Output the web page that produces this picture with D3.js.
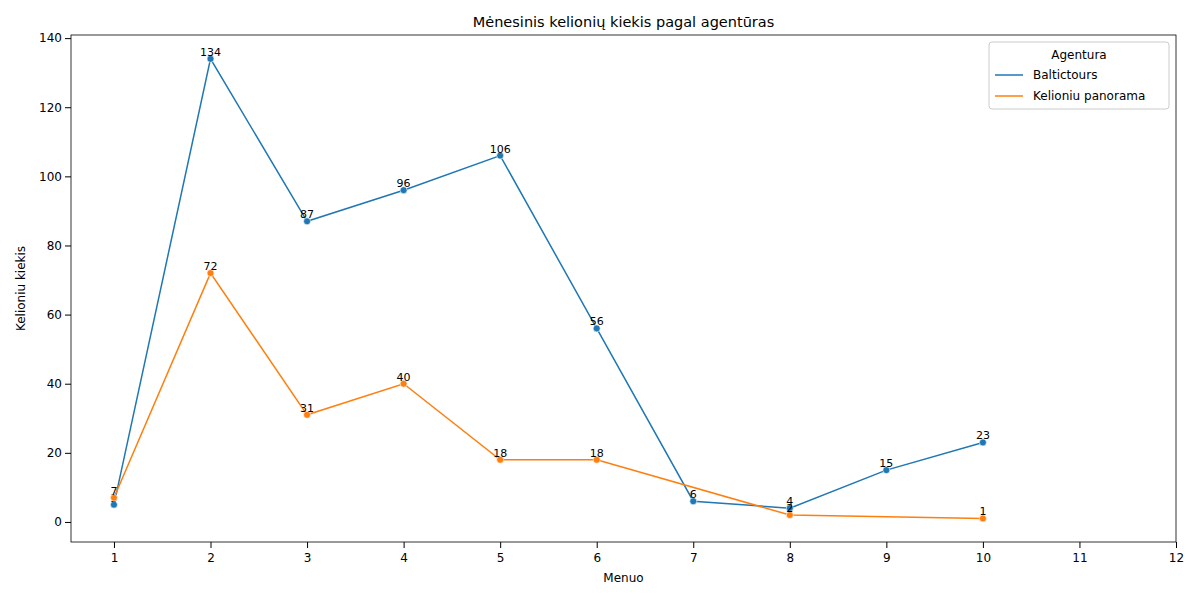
<!DOCTYPE html>
<html><head><meta charset="utf-8">
<script src="https://cdn.jsdelivr.net/npm/d3@7"></script>
<style>body{margin:0;background:#fff}text{font-family:"DejaVu Sans",sans-serif}</style>
</head><body><svg id="c" width="1200" height="600"></svg>
<script>
const months = [1, 2, 3, 4, 5, 6, 7, 8, 9, 10]
const baltictours = [5, 134, 87, 96, 106, 56, 6, 4, 15, 23]
const panoramaMonths = [1, 2, 3, 4, 5, 6, 8, 10]
const panorama = [7, 72, 31, 40, 18, 18, 2, 1]
const xTicks = [1, 2, 3, 4, 5, 6, 7, 8, 9, 10, 11, 12]
const yTicks = [0, 20, 40, 60, 80, 100, 120, 140]

const svg = d3.select("#c")
const m = { left: 71, right: 1176, top: 35, bottom: 542 }
const x = d3.scaleLinear().domain([0.555, 12]).range([m.left, m.right])
const y = d3.scaleLinear().domain([-5.8, 140.9]).range([m.bottom, m.top])

svg.append("g").attr("transform", `translate(0,${m.bottom})`)
  .call(d3.axisBottom(x).tickValues(xTicks).tickFormat(d3.format("d")).tickSizeOuter(0))
  .call(g => g.select(".domain").remove())
  .selectAll("text").style("font-size", "12px").attr("dy", "0.9em")
svg.append("g").attr("transform", `translate(${m.left},0)`)
  .call(d3.axisLeft(y).tickValues(yTicks).tickSizeOuter(0))
  .call(g => g.select(".domain").remove())
  .selectAll("text").style("font-size", "12px")
svg.append("rect").attr("x", m.left).attr("y", m.top)
  .attr("width", m.right - m.left).attr("height", m.bottom - m.top)
  .attr("fill", "none").attr("stroke", "#000").attr("stroke-width", 0.8)

const series = [
  { name: "Baltictours", color: "#1f77b4", xs: months, ys: baltictours },
  { name: "Kelioniu panorama", color: "#ff7f0e", xs: panoramaMonths, ys: panorama },
]
const line = d3.line().x(d => x(d[0])).y(d => y(d[1]))
series.forEach(s => {
  const pts = s.xs.map((v, i) => [v, s.ys[i]])
  svg.append("path").datum(pts).attr("d", line)
    .attr("fill", "none").attr("stroke", s.color).attr("stroke-width", 1.5)
  svg.selectAll(null).data(pts).enter().append("circle")
    .attr("cx", d => x(d[0])).attr("cy", d => y(d[1])).attr("r", 3.5)
    .attr("fill", s.color).attr("stroke", "#fff").attr("stroke-width", 0.6)
  svg.selectAll(null).data(pts).enter().append("text")
    .attr("x", d => x(d[0])).attr("y", d => y(d[1]) - 3)
    .attr("text-anchor", "middle").style("font-size", "11px").text(d => d[1])
})

svg.append("text").attr("x", (m.left + m.right) / 2).attr("y", 27)
  .attr("text-anchor", "middle").style("font-size", "14.5px")
  .text("Mėnesinis kelionių kiekis pagal agentūras")
svg.append("text").attr("x", (m.left + m.right) / 2).attr("y", 582)
  .attr("text-anchor", "middle").style("font-size", "12px").text("Menuo")
svg.append("text").attr("transform", `translate(25,${(m.top + m.bottom) / 2}) rotate(-90)`)
  .attr("text-anchor", "middle").style("font-size", "12px").text("Kelioniu kiekis")

const lg = svg.append("g").attr("transform", "translate(989,42)")
lg.append("rect").attr("width", 180).attr("height", 67).attr("rx", 3)
  .attr("fill", "#fff").attr("stroke", "#ccc")
lg.append("text").attr("x", 90).attr("y", 17).attr("text-anchor", "middle")
  .style("font-size", "12px").text("Agentura")
series.forEach((s, i) => {
  const yy = 33 + i * 21
  lg.append("line").attr("x1", 6).attr("x2", 34).attr("y1", yy).attr("y2", yy)
    .attr("stroke", s.color).attr("stroke-width", 1.5)
  lg.append("text").attr("x", 44).attr("y", yy + 4).style("font-size", "12px").text(s.name)
})
</script></body></html>
